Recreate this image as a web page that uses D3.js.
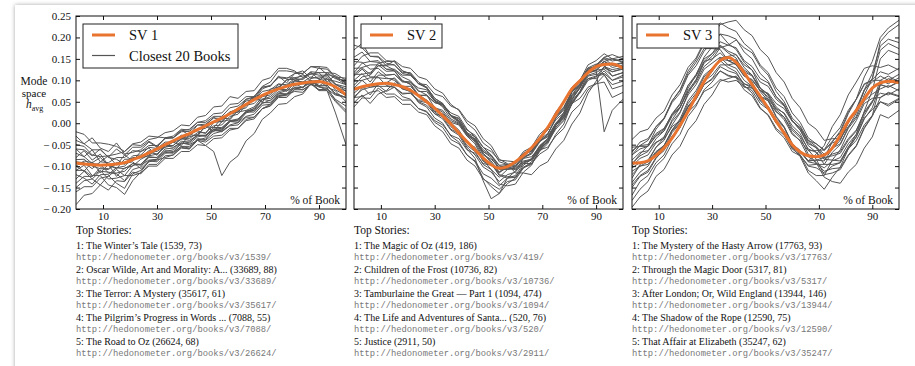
<!DOCTYPE html>
<html>
<head>
<meta charset="utf-8">
<script src="https://cdn.jsdelivr.net/npm/d3@7"></script>
<style>
  body { margin: 0; background: #fff; }
  svg { display: block; }
  text { font-family: "Liberation Serif", "DejaVu Serif", serif; fill: #111; }
  text.url { font-family: "Liberation Mono", "DejaVu Sans Mono", monospace; fill: #777; }
</style>
</head>
<body>
<svg id="chart" width="915" height="366"></svg>
<script>
// x positions (% of book) shared by every series
const pct = [0, 3, 6, 9, 12, 15, 18, 21, 24, 27, 30, 33, 36, 39, 42, 45, 48, 51, 54, 57, 60, 63, 66, 69, 72, 75, 78, 81, 84, 87, 90, 93, 96, 100];
const xTicks = [10, 30, 50, 70, 90];
const yTicks = [-0.20, -0.15, -0.10, -0.05, 0.00, 0.05, 0.10, 0.15, 0.20, 0.25];

// all h values below are in thousandths
const sv1 = [-93, -95, -97, -98, -97, -95, -92, -85, -78, -69, -60, -50, -41, -32, -24, -15, -6, 3, 12, 22, 33, 44, 55, 65, 73, 80, 86, 91, 94, 96, 97, 93, 85, 66];
const sv2 = [79, 85, 89, 92, 93, 90, 85, 77, 64, 50, 35, 17, -2, -23, -43, -62, -81, -97, -105, -101, -90, -75, -57, -36, -10, 20, 50, 80, 99, 118, 132, 137, 138, 128];
const sv3 = [-93, -92, -88, -75, -58, -35, -5, 27, 63, 97, 125, 146, 153, 142, 118, 90, 63, 35, 5, -23, -50, -67, -76, -78, -74, -58, -28, 5, 30, 57, 82, 94, 98, 95];

const books1 = [
  [-60, -78, -62, -90, -76, -98, -74, -88, -66, -58, -75, -50, -44, -52, -26, -30, -6, -20, 4, 8, 30, 36, 62, 48, 80, 84, 100, 106, 110, 114, 118, 96, 112, 92],
  [-130, -112, -130, -144, -122, -140, -152, -118, -110, -90, -86, -80, -74, -56, -60, -36, -38, -14, -18, 4, 6, 28, 30, 56, 52, 70, 76, 82, 84, 100, 86, 88, 70, 60],
  [-30, -48, -34, -58, -66, -46, -72, -68, -62, -44, -56, -34, -34, -16, -28, -4, -6, 14, 2, 26, 30, 56, 58, 84, 86, 110, 94, 116, 122, 104, 130, 114, 108, 95],
  [-190, -168, -164, -144, -156, -134, -136, -114, -118, -96, -96, -76, -74, -58, -60, -40, -34, -18, -16, 4, 2, 24, 30, 48, 48, 64, 68, 88, 92, 92, 78, 80, 56, 40],
  [-100, -112, -90, -116, -96, -124, -104, -100, -84, -74, -60, -56, -44, -38, -24, -18, -24, 2, 4, 22, 26, 30, 38, 62, 66, 86, 74, 94, 82, 104, 108, 108, 90, 80],
  [-80, -64, -86, -72, -98, -106, -84, -84, -80, -76, -56, -52, -40, -34, -32, -26, -8, -10, 12, 10, 36, 44, 64, 50, 76, 80, 102, 102, 114, 98, 100, 84, 76, 50],
  [-150, -134, -130, -112, -114, -118, -134, -108, -102, -78, -80, -60, -58, -42, -44, -28, -30, -14, -12, 6, 10, 26, 26, 46, 54, 70, 68, 82, 78, 90, 86, 102, 98, 90],
  [-50, -54, -74, -78, -76, -72, -66, -50, -52, -38, -34, -22, -18, -4, -6, 14, 18, 38, 40, 62, 58, 74, 76, 100, 106, 128, 128, 122, 106, 120, 118, 118, 104, 100],
  [-110, -98, -122, -122, -144, -150, -166, -134, -114, -88, -90, -70, -68, -54, -58, -38, -40, -24, -19, -4, 1, 16, 21, 42, 44, 64, 64, 79, 84, 100, 88, 89, 68, 60],
  [-90, -92, -106, -90, -92, -80, -80, -64, -66, -52, -52, -36, -34, -20, -19, -4, -2, 12, 11, 26, 34, 52, 54, 74, 78, 92, 88, 100, 96, 99, 84, 82, 54, 30],
  [-40, -48, -62, -62, -79, -60, -74, -56, -56, -42, -54, -34, -34, -18, -14, 2, 2, 16, 16, 36, 40, 56, 62, 84, 88, 108, 106, 106, 92, 92, 76, 76, 51, 25],
  [-120, -128, -142, -120, -119, -104, -106, -94, -96, -80, -80, -64, -66, -48, -44, -28, -30, -14, -14, 4, 8, 28, 34, 56, 62, 79, 78, 98, 96, 108, 104, 114, 91, 85],
  [-70, -78, -94, -96, -116, -116, -112, -94, -98, -86, -84, -66, -62, -46, -48, -32, -28, -10, -10, 6, 6, 26, 34, 56, 58, 74, 78, 100, 104, 119, 102, 104, 78, 65],
  [-160, -148, -148, -128, -124, -108, -122, -122, -116, -100, -100, -82, -82, -66, -66, -50, -52, -36, -34, -16, -12, 9, 14, 34, 41, 62, 66, 84, 84, 94, 78, 80, 66, 60],
  [-20, -26, -46, -46, -49, -54, -66, -48, -44, -30, -32, -34, -30, -14, -16, 2, 6, 22, 24, 44, 46, 62, 62, 86, 96, 122, 122, 119, 116, 132, 132, 130, 108, 105],
  [-100, -88, -92, -80, -98, -104, -100, -82, -80, -68, -72, -56, -52, -36, -40, -28, -28, -16, -20, -6, -4, 14, 14, 34, 40, 60, 60, 78, 78, 90, 86, 76, 26, -50],
  [-85, -84, -100, -106, -108, -94, -94, -80, -80, -64, -66, -52, -56, -46, -50, -40, -52, -66, -122, -91, -76, -41, -24, 9, 24, 44, 46, 62, 68, 92, 94, 104, 84, 75],
  [-140, -124, -124, -110, -130, -128, -122, -98, -96, -76, -72, -52, -52, -36, -36, -22, -22, -6, -4, 16, 21, 42, 46, 66, 70, 90, 90, 104, 102, 116, 112, 112, 92, 75],
  [-110, -110, -124, -104, -106, -92, -94, -90, -106, -88, -84, -68, -70, -54, -54, -40, -44, -30, -28, -12, -12, 6, 10, 34, 44, 68, 68, 74, 72, 92, 98, 118, 116, 100],
  [-60, -62, -76, -60, -80, -84, -96, -76, -74, -56, -59, -44, -44, -28, -30, -14, -12, 4, 8, 26, 26, 46, 54, 80, 88, 106, 104, 116, 116, 132, 128, 126, 106, 90]
];

const books2 = [
  [171, 186, 156, 154, 134, 124, 108, 99, 76, 66, 36, 26, 1, -16, -46, -56, -89, -98, -114, -96, -92, -66, -56, -26, -9, 26, 51, 84, 101, 129, 128, 144, 135, 140],
  [114, 130, 136, 136, 121, 122, 98, 96, 74, 74, 51, 44, 18, 4, -29, -41, -66, -76, -99, -104, -100, -76, -64, -34, -16, 19, 38, 74, 88, 112, 118, 129, 120, 126],
  [70, 86, 66, 92, 94, 106, 86, 86, 66, 64, 48, 42, 18, 12, -22, -32, -56, -74, -106, -108, -104, -88, -84, -58, -44, -14, 6, 46, 74, 116, 134, 154, 145, 150],
  [128, 129, 114, 140, 144, 144, 122, 114, 92, 84, 58, 46, 16, 2, -26, -44, -80, -94, -122, -128, -126, -104, -96, -64, -42, -4, 18, 52, 74, 104, 104, 122, 100, 112],
  [38, 59, 58, 82, 68, 68, 54, 54, 34, 28, 6, -4, -28, -36, -62, -70, -94, -98, -116, -100, -94, -70, -60, -32, -16, 16, 36, 74, 92, 126, 134, 154, 160, 150],
  [134, 156, 164, 164, 146, 144, 122, 116, 92, 82, 52, 40, 18, 6, -22, -40, -74, -84, -102, -98, -100, -82, -78, -56, -44, -6, 26, 74, 96, 129, 138, 136, 110, 118],
  [82, 100, 106, 106, 104, 104, 81, 74, 50, 42, 22, 16, -8, -24, -56, -74, -102, -114, -136, -120, -114, -92, -86, -56, -38, -4, 18, 59, 82, 116, 124, 139, 140, 132],
  [58, 82, 88, 112, 112, 114, 96, 96, 82, 78, 54, 44, 18, 10, -16, -28, -56, -66, -86, -88, -90, -70, -66, -42, -32, -4, 12, 46, 58, 84, 92, 96, 60, 72],
  [144, 142, 126, 128, 112, 114, 98, 92, 66, 54, 26, 14, -14, -24, -52, -66, -96, -108, -126, -108, -102, -80, -72, -44, -26, 12, 31, 66, 91, 126, 134, 149, 150, 144],
  [98, 100, 84, 86, 86, 84, 62, 56, 34, 26, 2, -10, -38, -48, -74, -88, -118, -128, -146, -128, -122, -94, -82, -52, -36, -4, 14, 54, 84, 120, 124, 126, 110, 118],
  [60, 62, 72, 76, 60, 62, 44, 44, 26, 20, -6, -20, -48, -58, -86, -100, -130, -142, -154, -136, -132, -104, -90, -60, -44, -10, 8, 44, 72, 110, 114, 116, 100, 108],
  [114, 114, 118, 134, 134, 146, 132, 128, 108, 102, 80, 70, 44, 30, 0, -16, -46, -60, -90, -96, -98, -78, -70, -42, -26, 12, 34, 72, 90, 118, 122, 144, 150, 142],
  [100, 116, 96, 120, 106, 100, 80, 74, 48, 38, 12, 0, -30, -44, -74, -90, -128, -148, -164, -141, -128, -98, -84, -54, -36, 0, 18, 50, 70, 100, 108, 132, 120, 128],
  [182, 176, 156, 156, 140, 136, 118, 118, 96, 84, 52, 38, 10, 0, -26, -38, -70, -88, -114, -104, -106, -90, -86, -62, -56, -30, -12, 26, 44, 78, 92, 112, 90, 98],
  [48, 66, 46, 68, 76, 94, 80, 80, 64, 66, 48, 44, 24, 16, -14, -32, -70, -92, -120, -124, -126, -102, -94, -66, -48, -10, 14, 56, 82, 122, 136, 152, 135, 142],
  [110, 126, 108, 108, 88, 84, 68, 70, 52, 48, 28, 22, 2, -4, -30, -48, -86, -108, -142, -146, -142, -114, -98, -62, -40, -4, 20, 74, 100, 136, 146, 162, 150, 156],
  [154, 166, 144, 142, 126, 126, 112, 112, 92, 84, 58, 46, 18, 6, -24, -38, -66, -80, -108, -106, -108, -94, -94, -72, -60, -26, -2, 48, 72, 104, 110, 114, 80, 88],
  [62, 78, 84, 88, 74, 84, 70, 70, 54, 54, 36, 30, 6, -2, -26, -36, -62, -74, -98, -96, -94, -72, -64, -40, -30, 0, 22, 64, 88, 122, 124, -20, 30, 56],
  [118, 140, 144, 146, 126, 122, 100, 90, 62, 50, 22, 10, -16, -28, -60, -82, -134, -176, -164, -128, -112, -82, -68, -38, -24, 8, 24, 62, 84, 122, 130, 144, 130, 136],
  [88, 108, 112, 134, 136, 136, 116, 112, 92, 90, 68, 62, 40, 32, 6, -6, -36, -52, -84, -94, -116, -116, -120, -100, -90, -60, -40, -2, 24, 70, 98, 132, 125, 130]
];

const books3 = [
  [-128, -96, -86, -56, -40, -4, 24, 70, 100, 140, 156, 180, 164, 152, 116, 96, 58, 38, 2, -22, -58, -68, -88, -72, -52, -8, 20, 66, 96, 128, 134, 130, 136, 124],
  [-68, -44, -36, -8, 10, 48, 70, 112, 134, 168, 188, 208, 186, 172, 142, 124, 82, 56, 16, -8, -48, -64, -88, -86, -80, -44, -18, 26, 56, 90, 102, 120, 114, 128],
  [-168, -136, -122, -92, -74, -36, -10, 32, 56, 90, 104, 132, 122, 116, 92, 82, 54, 40, 8, -10, -48, -74, -110, -122, -122, -86, -62, -22, 6, 46, 58, 60, 72, 64],
  [-96, -72, -52, -14, 10, 52, 76, 116, 142, 174, 174, 172, 146, 136, 110, 102, 76, 62, 28, 8, -26, -40, -64, -64, -62, -32, -10, 30, 56, 92, 100, 100, 110, 96],
  [-180, -154, -136, -100, -82, -48, -26, 16, 40, 78, 96, 122, 110, 108, 86, 76, 46, 32, 0, -18, -56, -78, -116, -134, -154, -126, -102, -60, -32, 12, 32, 50, 44, 58],
  [-38, -20, -14, 12, 28, 66, 90, 130, 152, 190, 208, 234, 222, 214, 186, 170, 136, 118, 82, 62, 24, 2, -34, -48, -64, -42, -22, 22, 56, 108, 144, 200, 222, 240],
  [-138, -114, -100, -70, -54, -16, 10, 52, 76, 112, 128, 146, 130, 120, 88, 70, 36, 18, -16, -34, -66, -76, -98, -96, -96, -68, -50, -12, 12, 52, 68, 80, 88, 76],
  [-74, -60, -54, -28, -14, 22, 46, 88, 110, 144, 150, 164, 146, 138, 110, 100, 76, 70, 46, 34, 4, -10, -40, -48, -62, -46, -38, 0, 30, 76, 104, 170, 186, 174],
  [-150, -124, -114, -82, -60, -22, 0, 38, 60, 98, 120, 152, 156, 160, 136, 124, 96, 86, 56, 40, 6, -16, -52, -68, -96, -96, -92, -56, -32, 10, 36, 90, 104, 96],
  [-64, -52, -50, -24, -12, 20, 38, 74, 96, 132, 148, 176, 182, 194, 176, 164, 132, 112, 74, 50, 12, -6, -40, -54, -80, -76, -70, -40, -18, 26, 52, 70, 66, 80],
  [-100, -82, -74, -46, -32, 4, 26, 66, 90, 126, 140, 154, 136, 128, 100, 86, 52, 34, 0, -20, -54, -66, -88, -86, -88, -60, -40, 2, 34, 78, 96, 110, 100, 114],
  [-120, -100, -90, -56, -34, 8, 36, 82, 112, 154, 178, 208, 204, 196, 166, 150, 116, 98, 62, 42, 6, -12, -44, -58, -84, -86, -88, -56, -26, 28, 76, 150, 170, 160],
  [-86, -68, -64, -44, -36, -8, 6, 38, 56, 90, 102, 122, 112, 106, 78, 64, 34, 20, -12, -28, -60, -74, -100, -104, -116, -100, -92, -60, -40, -4, 18, 50, 40, 56],
  [-196, -172, -158, -124, -108, -74, -54, -16, 6, 44, 66, 98, 104, 110, 92, 86, 62, 52, 26, 14, -16, -34, -72, -92, -126, -136, -140, -114, -96, -58, -32, 20, 12, 30],
  [-56, -54, -54, -30, -18, 16, 36, 76, 102, 144, 162, 190, 182, 176, 146, 132, 104, 94, 62, 44, 6, -16, -48, -56, -72, -58, -48, -10, 24, 78, 116, 180, 196, 188],
  [-94, -76, -66, -36, -18, 20, 44, 88, 114, 150, 162, 182, 168, 160, 130, 112, 74, 52, 14, -10, -48, -64, -90, -94, -104, -88, -80, -48, -26, 18, 50, 90, 84, 98],
  [-144, -122, -110, -80, -64, -30, -10, 26, 44, 74, 84, 102, 96, 100, 84, 82, 62, 56, 34, 24, -6, -24, -62, -84, -120, -116, -108, -76, -54, -12, 16, 60, 70, 62],
  [-74, -52, -40, -8, 12, 52, 78, 122, 148, 186, 202, 230, 236, 240, 218, 204, 172, 154, 118, 96, 58, 36, 0, -14, -40, -36, -36, -8, 16, 66, 104, 190, 212, 230],
  [-104, -92, -90, -66, -52, -18, 2, 40, 62, 98, 112, 136, 136, 140, 120, 110, 82, 68, 38, 22, -12, -30, -60, -68, -84, -72, -66, -36, -16, 24, 48, 100, 92, 106],
  [-112, -100, -96, -68, -52, -16, 6, 46, 70, 108, 124, 150, 146, 148, 124, 112, 82, 66, 32, 14, -22, -42, -78, -92, -112, -106, -104, -74, -52, -10, 18, 90, 84, 96]
];

const svNames = ["SV 1", "SV 2", "SV 3"];
const titles1 = ["The Winter\u2019s Tale (1539, 73)", "Oscar Wilde, Art and Morality: A... (33689, 88)", "The Terror: A Mystery (35617, 61)", "The Pilgrim\u2019s Progress in Words ... (7088, 55)", "The Road to Oz (26624, 68)"];
const titles2 = ["The Magic of Oz (419, 186)", "Children of the Frost (10736, 82)", "Tamburlaine the Great \u2014 Part 1 (1094, 474)", "The Life and Adventures of Santa... (520, 76)", "Justice (2911, 50)"];
const titles3 = ["The Mystery of the Hasty Arrow (17763, 93)", "Through the Magic Door (5317, 81)", "After London; Or, Wild England (13944, 146)", "The Shadow of the Rope (12590, 75)", "That Affair at Elizabeth (35247, 62)"];
const ids1 = [1539, 33689, 35617, 7088, 26624];
const ids2 = [419, 10736, 1094, 520, 2911];
const ids3 = [17763, 5317, 13944, 12590, 35247];

const panels = [
  { sv: sv1, books: books1, titles: titles1, ids: ids1, x0: 76, x1: 346, legend: { x: 83, w: 155, h: 44 } },
  { sv: sv2, books: books2, titles: titles2, ids: ids2, x0: 354, x1: 623, legend: { x: 361, w: 81, h: 24 } },
  { sv: sv3, books: books3, titles: titles3, ids: ids3, x0: 632, x1: 899, legend: { x: 637, w: 82, h: 24 } }
];

// quick sanity check on hand-typed series
panels.forEach((p, i) => [p.sv, ...p.books].forEach((s, k) => {
  if (s.length !== pct.length) console.error(`panel ${i + 1} series ${k} has ${s.length} values`);
}));

const orange = "#e8742f";
const grey = "#555";
const plotTop = 16, plotBottom = 209;

const svg = d3.select("#chart");

const defs = svg.append("defs");
defs.append("filter").attr("id", "shadow")
  .attr("x", "-5%").attr("y", "-5%").attr("width", "110%").attr("height", "110%")
  .append("feDropShadow")
  .attr("dx", 0).attr("dy", 0).attr("stdDeviation", 2)
  .attr("flood-color", "#000").attr("flood-opacity", 0.35);

// card behind the figure
svg.append("rect")
  .attr("x", 15).attr("y", 5).attr("width", 940).attr("height", 400)
  .attr("fill", "#fff").attr("filter", "url(#shadow)");

const y = d3.scaleLinear().domain([-0.20, 0.25]).range([plotBottom, plotTop]);
const fmt = d3.format(".2f");
const yFormat = v => v < 0 ? "\u2212\u2009" + fmt(-v) : fmt(v);

panels.forEach((p, i) => {
  const x = d3.scaleLinear().domain([0, 100]).range([p.x0, p.x1]);
  const g = svg.append("g");

  defs.append("clipPath").attr("id", "clip" + i)
    .append("rect").attr("x", p.x0).attr("y", plotTop).attr("width", p.x1 - p.x0).attr("height", plotBottom - plotTop);

  g.append("text")
    .attr("x", p.x1 - 6).attr("y", plotBottom - 5)
    .attr("text-anchor", "end").attr("font-size", 11.5)
    .text("% of Book");

  const line = d3.line()
    .defined((d, k) => k < pct.length)
    .x((d, k) => x(pct[k]))
    .y(d => y(d / 1000));

  const plot = g.append("g").attr("clip-path", `url(#clip${i})`);
  plot.selectAll("path.book")
    .data(p.books)
    .join("path")
    .attr("class", "book")
    .attr("d", line)
    .attr("fill", "none")
    .attr("stroke", grey)
    .attr("stroke-width", 1)
    .attr("stroke-linejoin", "round");

  plot.append("path")
    .attr("d", line.curve(d3.curveMonotoneX)(p.sv))
    .attr("fill", "none")
    .attr("stroke", orange)
    .attr("stroke-width", 3);

  // axes: ticks point inward, on all four sides
  g.append("g").attr("transform", `translate(0,${plotBottom})`)
    .call(d3.axisBottom(x).tickValues(xTicks).tickSizeInner(-4).tickSizeOuter(0).tickPadding(3));
  g.append("g").attr("transform", `translate(0,${plotTop})`)
    .call(d3.axisTop(x).tickValues(xTicks).tickSizeInner(-4).tickSizeOuter(0).tickFormat(""));
  g.append("g").attr("transform", `translate(${p.x0},0)`)
    .call(d3.axisLeft(y).tickValues(yTicks).tickSizeInner(-4).tickSizeOuter(0).tickPadding(5)
      .tickFormat(i === 0 ? yFormat : ""));
  g.append("g").attr("transform", `translate(${p.x1},0)`)
    .call(d3.axisRight(y).tickValues(yTicks).tickSizeInner(-4).tickSizeOuter(0).tickFormat(""));

  g.selectAll(".domain").remove();
  g.selectAll(".tick line").attr("stroke", "#111");
  g.selectAll(".tick text")
    .attr("font-family", "Liberation Serif, serif")
    .attr("font-size", 11)
    .attr("fill", "#111");

  g.append("rect")
    .attr("x", p.x0).attr("y", plotTop)
    .attr("width", p.x1 - p.x0).attr("height", plotBottom - plotTop)
    .attr("fill", "none").attr("stroke", "#111").attr("stroke-width", 1);

  // legend
  const L = p.legend;
  const lg = g.append("g");
  lg.append("rect")
    .attr("x", L.x).attr("y", 24).attr("width", L.w).attr("height", L.h)
    .attr("fill", "#fff").attr("stroke", "#222").attr("stroke-width", 1);
  lg.append("line")
    .attr("x1", L.x + 9).attr("x2", L.x + 32).attr("y1", 35).attr("y2", 35)
    .attr("stroke", orange).attr("stroke-width", 3);
  lg.append("text")
    .attr("x", L.x + 46).attr("y", 40).attr("font-size", 14.5)
    .text(svNames[i]);
  if (i === 0) {
    lg.append("line")
      .attr("x1", L.x + 9).attr("x2", L.x + 32).attr("y1", 55.5).attr("y2", 55.5)
      .attr("stroke", grey).attr("stroke-width", 1.2);
    lg.append("text")
      .attr("x", L.x + 46).attr("y", 60.5).attr("font-size", 14.5)
      .text("Closest 20 Books");
  }

  // top stories list
  const st = svg.append("g").attr("transform", `translate(${p.x0},0)`);
  st.append("text").attr("x", 0).attr("y", 234).attr("font-size", 11.5).text("Top Stories:");
  p.titles.forEach((t, k) => {
    st.append("text").attr("x", 0).attr("y", 249 + k * 24).attr("font-size", 10)
      .attr("fill", "#222").text(`${k + 1}: ${t}`);
    st.append("text").attr("class", "url").attr("x", 0).attr("y", 259.5 + k * 24).attr("font-size", 8.8)
      .text(`http://hedonometer.org/books/v3/${p.ids[k]}/`);
  });
});

// y axis label
const ylab = svg.append("text").attr("text-anchor", "middle").attr("font-size", 11.5);
ylab.append("tspan").attr("x", 34).attr("y", 85).text("Mode");
ylab.append("tspan").attr("x", 34).attr("y", 97).attr("font-size", 11).text("space");
const hl = svg.append("text").attr("x", 26).attr("y", 108).attr("font-size", 11.5);
hl.append("tspan").attr("font-style", "italic").text("h");
hl.append("tspan").attr("font-size", 8).attr("dy", 2.5).text("avg");
</script>
</body>
</html>
